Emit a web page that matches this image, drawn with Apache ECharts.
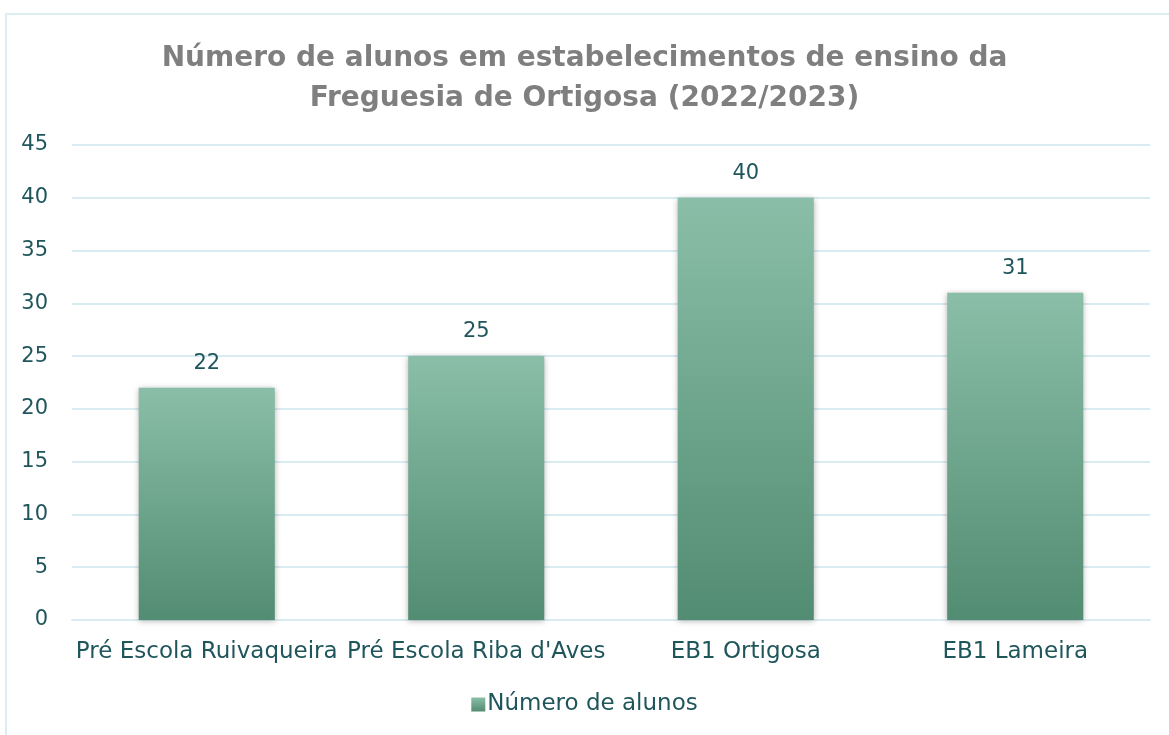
<!DOCTYPE html>
<html>
<head>
<meta charset="utf-8">
<script src="https://cdn.jsdelivr.net/npm/echarts@6/dist/echarts.min.js"></script>
<style>
  html, body { margin: 0; padding: 0; background: #fff; }
  #frame { position: absolute; left: 5px; top: 13px; width: 1180px; height: 740px;
           border: 2px solid #dcedf2; box-sizing: border-box; }
  #chart { position: absolute; left: 0; top: 0; width: 1169px; height: 735px; }
</style>
</head>
<body>
<div id="frame"></div>
<div id="chart"></div>
<script>
const categories = ['Pré Escola Ruivaqueira', "Pré Escola Riba d'Aves", 'EB1 Ortigosa', 'EB1 Lameira'];
const alunos = [22, 25, 40, 31];
const seriesName = 'Número de alunos';

const textColor = '#1f565b';
const fontFamily = '"DejaVu Sans", Lato, sans-serif';

const barGradient = new echarts.graphic.LinearGradient(0, 0, 0, 1, [
    {offset: 0, color: '#8abea8'},
    {offset: 1, color: '#528c72'}
]);

const app = echarts.init(document.getElementById('chart'));

app.setOption({
    animation: false,
    title: {
        text: 'Número de alunos em estabelecimentos de ensino da\nFreguesia de Ortigosa (2022/2023)',
        left: 'center',
        top: 34,
        textStyle: {
            color: '#7f7f7f',
            fontSize: 28,
            fontWeight: 'bold',
            fontFamily,
            lineHeight: 40
        }
    },
    legend: {
        bottom: 14,
        left: 'center',
        itemWidth: 14,
        itemHeight: 14,
        itemGap: 4,
        icon: 'rect',
        textStyle: {color: textColor, fontSize: 23, fontFamily, padding: [0, 0, 0, -3]},
        data: [seriesName]
    },
    grid: {left: 72, right: 19, top: 145, bottom: 115, containLabel: false},
    xAxis: {
        type: 'category',
        data: categories,
        axisLine: {lineStyle: {color: '#d9ecf1', width: 2}},
        axisTick: {show: false},
        axisLabel: {color: textColor, fontSize: 23, fontFamily, margin: 21, interval: 0}
    },
    yAxis: {
        type: 'value',
        min: 0,
        max: 45,
        interval: 5,
        axisLine: {show: false},
        axisTick: {show: false},
        splitLine: {lineStyle: {color: '#d9ecf1', width: 2}},
        axisLabel: {color: textColor, fontSize: 21, fontFamily, margin: 24}
    },
    series: [{
        name: seriesName,
        type: 'bar',
        data: alunos,
        barWidth: '50.5%',
        itemStyle: {
            color: barGradient,
            shadowBlur: 6,
            shadowColor: 'rgba(0,0,0,0.3)',
            shadowOffsetX: 0,
            shadowOffsetY: 1
        },
        label: {
            show: true,
            position: 'top',
            distance: 14,
            color: textColor,
            fontSize: 21,
            fontFamily
        }
    }]
});
</script>
</body>
</html>
